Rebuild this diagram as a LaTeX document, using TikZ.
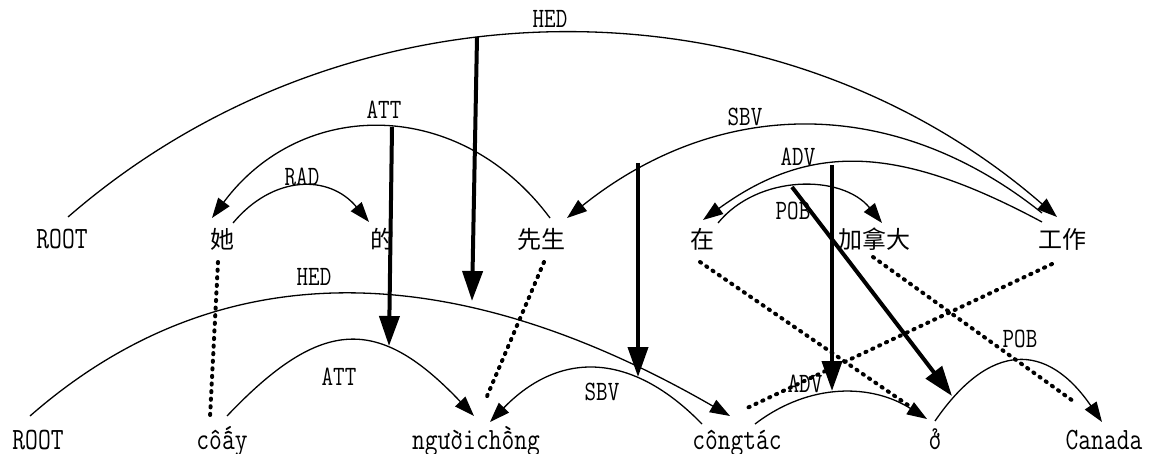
\documentclass[tikz,border=0pt]{standalone}
\usepackage{fontspec}
\newfontfamily\cjk{Noto Sans CJK SC}
\newfontfamily\lat{Latin Modern Mono}[FakeStretch=0.8]
\usetikzlibrary{arrows.meta}
\begin{document}
\begin{tikzpicture}[x=0.5pt,y=-0.5pt,
  word/.style={anchor=base,inner sep=0pt,font=\lat\fontsize{15.5}{15.5}\selectfont},
  cword/.style={anchor=base,inner sep=0pt,font=\cjk\fontsize{12}{12}\selectfont},
  lab/.style={inner sep=0pt,font=\lat\fontsize{14}{14}\selectfont},
  dep/.style={line width=0.65pt,-{Triangle[length=10pt,width=7pt]}},
  heavy/.style={line width=2pt,-{Triangle[length=15pt,width=10pt]}},
  link/.style={line width=2pt,line cap=round,dash pattern=on 0.6pt off 3.2pt}]
\useasboundingbox (0,0) rectangle (1150,454);
% top row
\node[word]  (t0) at (62,249)   {ROOT};
\node[cword] (t1) at (222,249)  {她};
\node[cword] (t2) at (382,249)  {的};
\node[cword] (t3) at (541,249)  {先生};
\node[cword] (t4) at (702,249)  {在};
\node[cword] (t5) at (874,249)  {加拿大};
\node[cword] (t6) at (1062,249) {工作};
% bottom row
\node[word] (b0) at (38,449)   {ROOT};
\node[word] (b1) at (222,449)  {côấy};
\node[word] (b2) at (476,449)  {ngườichồng};
\node[word] (b3) at (737,449)  {côngtác};
\node[word] (b4) at (935,449)  {ở};
\node[word] (b5) at (1104,449) {Canada};
% labels
\node[lab] (l1) at (550,19)  {HED};
\node[lab] (l2) at (384,110) {ATT};
\node[lab] (l3) at (302,177) {RAD};
\node[lab] (l4) at (745,117) {SBV};
\node[lab] (l5) at (798,157) {ADV};
\node[lab] (l6) at (793,211) {POB};
\node[lab] (l7) at (314,277) {HED};
\node[lab] (l8) at (339,377) {ATT};
\node[lab] (l9) at (602,392) {SBV};
\node[lab] (l10) at (805,384) {ADV};
\node[lab] (l11) at (1020,339) {POB};
% top arcs
\draw[dep] ([shift={(6,-32)}]t0.base) .. controls +(282,-245) and +(-282,-245) .. ([shift={(-5,-32)}]t6.base);
\draw[dep] ([shift={(9,-31)}]t3.base) .. controls +(-90,-121) and +(90,-121) .. ([shift={(-10,-31)}]t1.base);
\draw[dep] ([shift={(11,-26)}]t1.base) .. controls +(40,-48) and +(-40,-48) .. ([shift={(-13,-27)}]t2.base);
\draw[dep] ([shift={(-20,-36)}]t6.base) .. controls +(-150,-120) and +(150,-120) .. ([shift={(26,-31)}]t3.base);
\draw[dep] ([shift={(-20,-27)}]t6.base) .. controls +(-140,-75) and +(110,-80) .. ([shift={(1,-29)}]t4.base);
\draw[dep] ([shift={(16,-26)}]t4.base) .. controls +(40,-49) and +(-40,-49) .. ([shift={(8,-26)}]t5.base);
% bottom arcs
\draw[dep] ([shift={(-8,-33)}]b0.base) .. controls +(200,-175) and +(-260,-150) .. ([shift={(-7,-33)}]b3.base);
\draw[dep] ([shift={(5,-33)}]b1.base) .. controls +(95,-100) and +(-95,-100) .. ([shift={(-2,-33)}]b2.base);
\draw[dep] ([shift={(-35,-25)}]b3.base) .. controls +(-70,-72) and +(70,-72) .. ([shift={(14,-27)}]b2.base);
\draw[dep] ([shift={(18,-25)}]b3.base) .. controls +(55,-42) and +(-55,-35) .. ([shift={(-8,-30)}]b4.base);
\draw[dep] ([shift={(0,-28)}]b4.base) .. controls +(55,-80) and +(-55,-80) .. ([shift={(-2,-27)}]b5.base);
% heavy arrows between the two trees
\coordinate (h1a) at (477,37);  \coordinate (h1b) at (472,301);
\coordinate (h2a) at (392,127); \coordinate (h2b) at (389,346);
\coordinate (h3a) at (638,163); \coordinate (h3b) at (638,377);
\coordinate (h4a) at (832,165); \coordinate (h4b) at (832,391);
\coordinate (h5a) at (792,187); \coordinate (h5b) at (952,396);
\draw[heavy] (h1a) -- (h1b);
\draw[heavy] (h2a) -- (h2b);
\draw[heavy] (h3a) -- (h3b);
\draw[heavy] (h4a) -- (h4b);
\draw[heavy] (h5a) -- (h5b);
% dotted word alignments
\draw[link] ([shift={(-4,13)}]t1.base) -- ([shift={(-12,-32)}]b1.base);
\draw[link] ([shift={(3,13)}]t3.base) -- ([shift={(9,-48)}]b2.base);
\draw[link] ([shift={(-2,13)}]t4.base) -- ([shift={(-17,-37)}]b4.base);
\draw[link] ([shift={(-1,8)}]t5.base) -- ([shift={(-31,-48)}]b5.base);
\draw[link] ([shift={(-10,15)}]t6.base) -- ([shift={(8,-40)}]b3.base);
\end{tikzpicture}
\end{document}
